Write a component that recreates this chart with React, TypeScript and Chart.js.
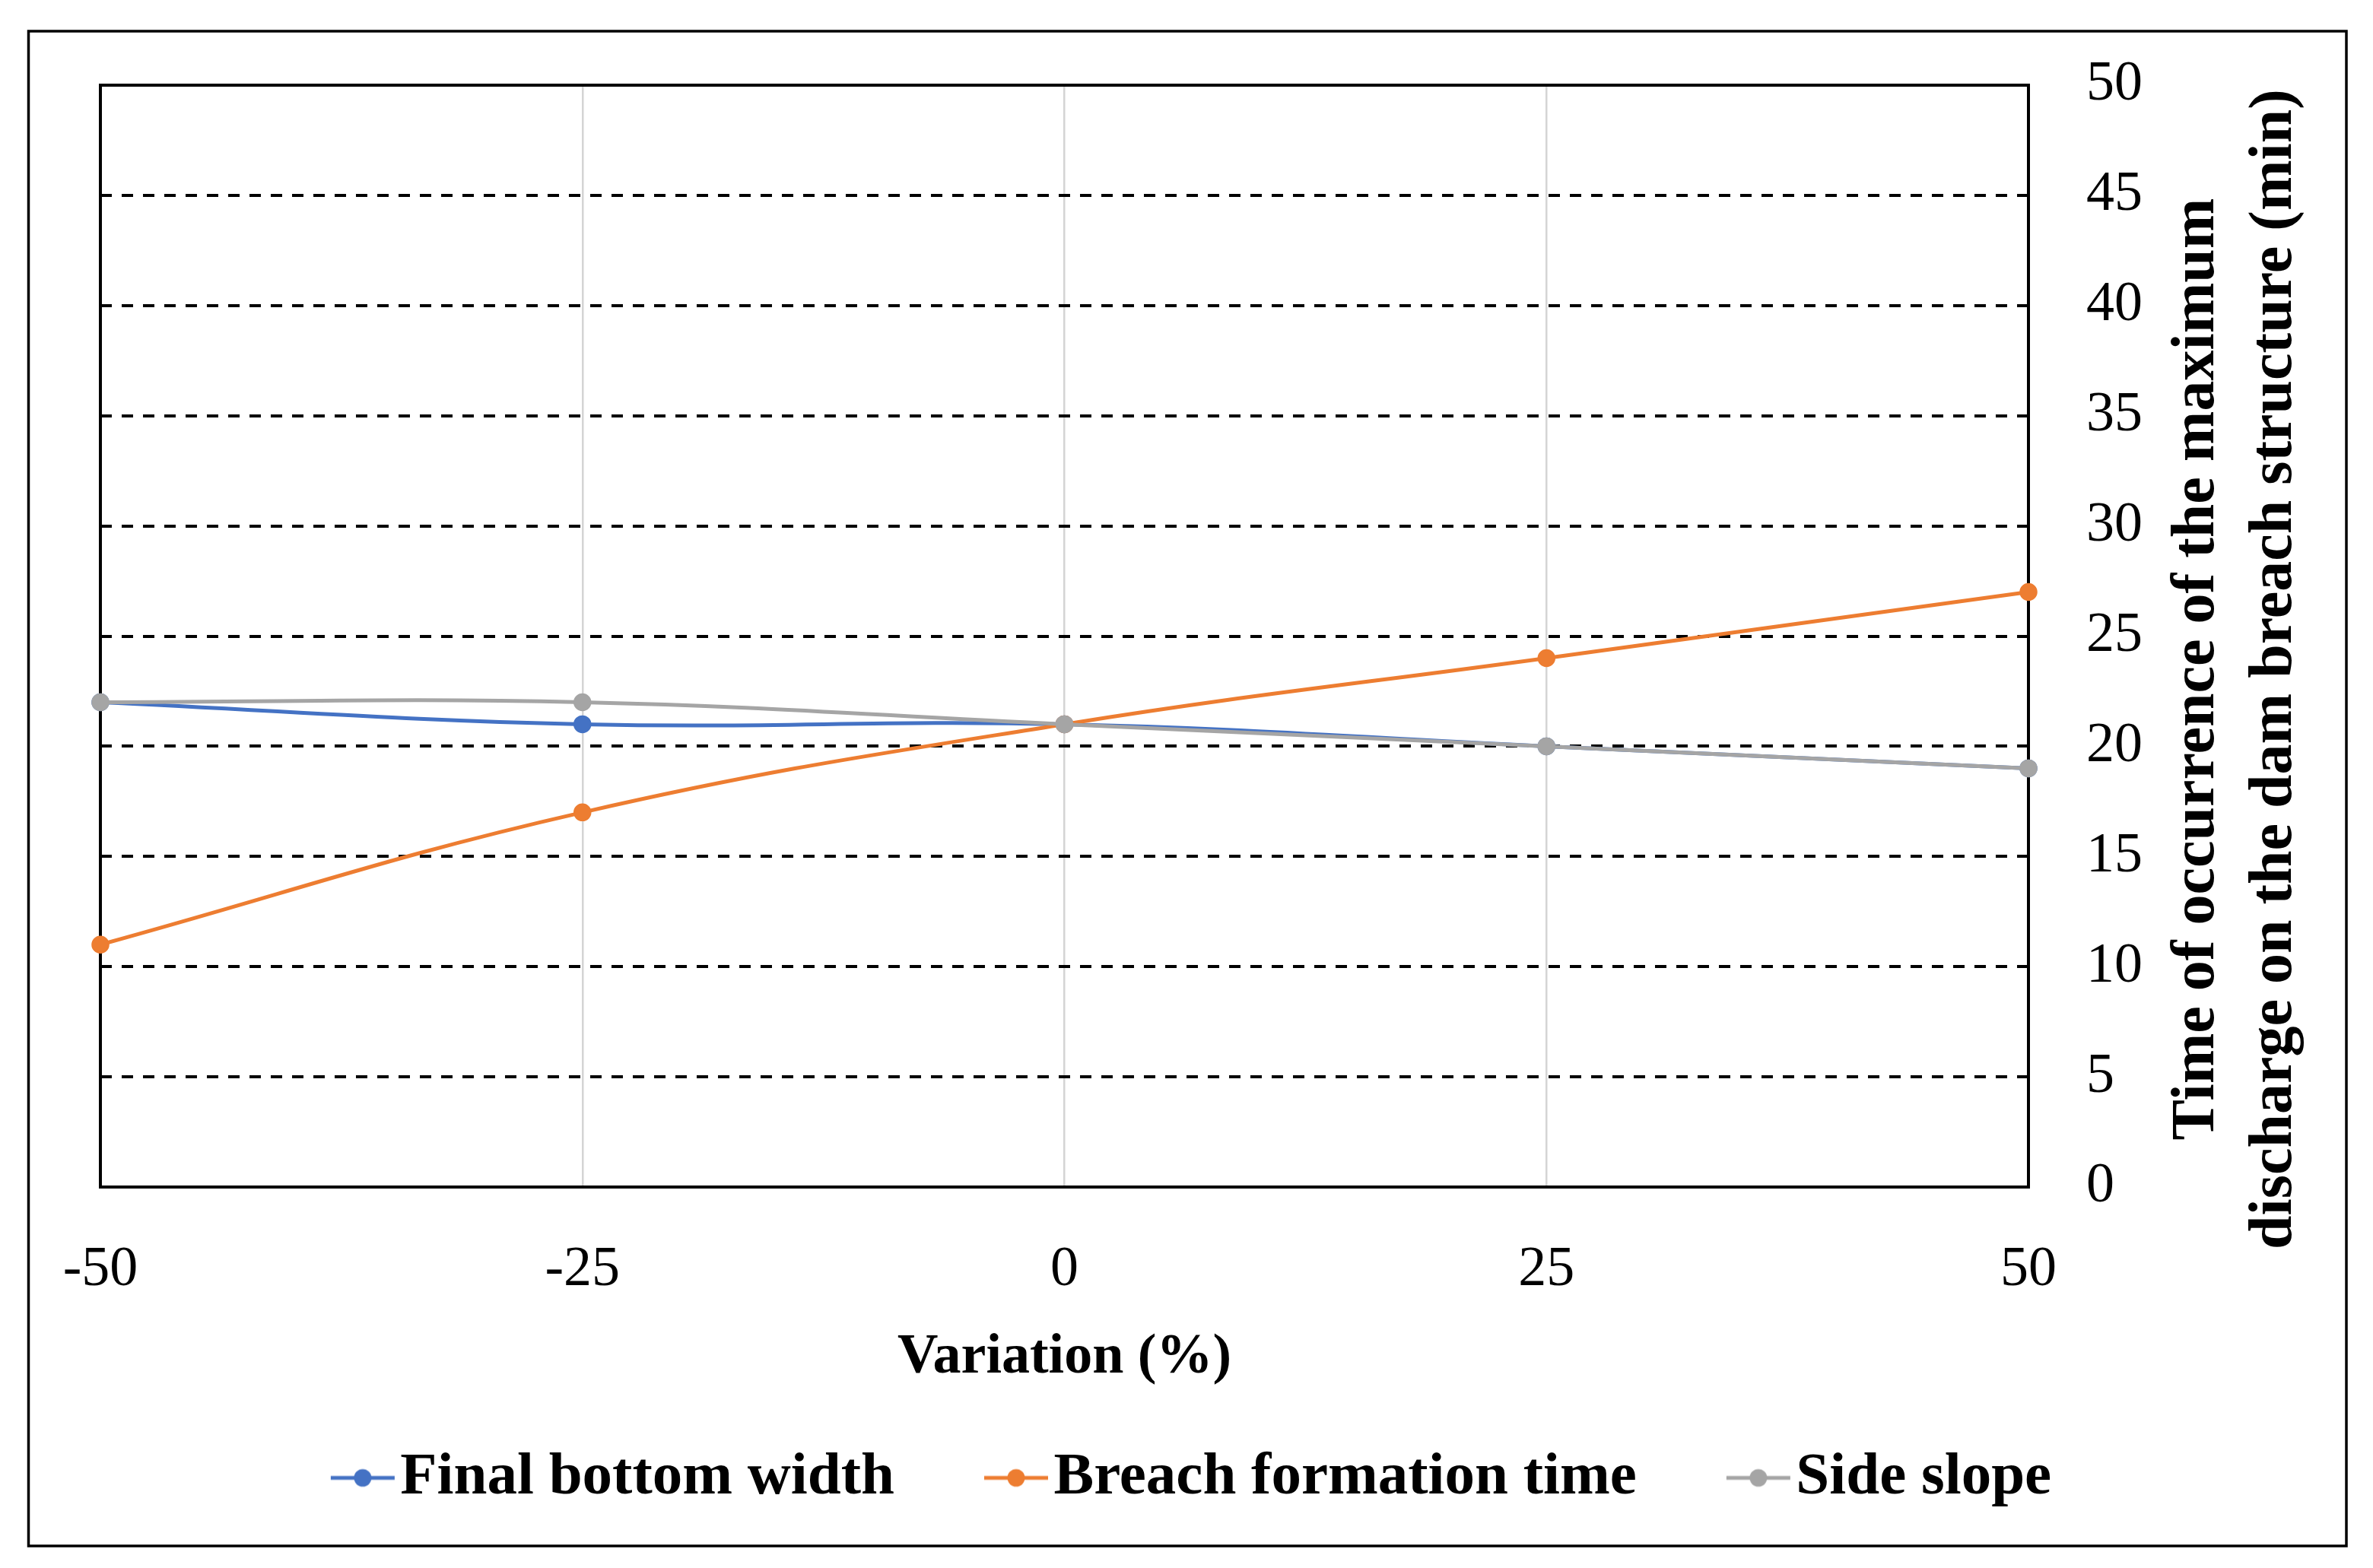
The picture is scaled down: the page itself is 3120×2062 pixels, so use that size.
import { useEffect, useRef } from 'react';
import { Chart, registerables } from 'chart.js';

Chart.register(...registerables);

// ---- data ----
const variation = [-50, -25, 0, 25, 50];
const finalBottomWidth = [22, 21, 21, 20, 19];
const breachFormationTime = [11, 17, 21, 24, 27];
const sideSlope = [22, 22, 21, 20, 19];
const seriesNames = ['Final bottom width', 'Breach formation time', 'Side slope'];
const seriesColors = ['#4472C4', '#ED7D31', '#A5A5A5'];
const xTitle = 'Variation (%)';
const yTitleLines = ['Time of occurrence of the maximum', 'discharge on the dam breach structure (min)'];

const FONT = "'Liberation Serif', 'Times New Roman', serif";

function makeMarker(color: string): HTMLCanvasElement {
  const c = document.createElement('canvas');
  c.width = 260;
  c.height = 30;
  const g = c.getContext('2d')!;
  g.strokeStyle = color;
  g.lineWidth = 5;
  g.beginPath();
  g.moveTo(153, 15);
  g.lineTo(237, 15);
  g.stroke();
  g.fillStyle = color;
  g.beginPath();
  g.arc(195, 15, 11.5, 0, Math.PI * 2);
  g.fill();
  return c;
}

const framePlugin = {
  id: 'framePlugin',
  beforeDatasetsDraw(chart: any) {
    const { ctx, chartArea: a } = chart;
    ctx.save();
    ctx.strokeStyle = '#000';
    ctx.lineWidth = 4;
    ctx.strokeRect(a.left, a.top, a.right - a.left, a.bottom - a.top);
    ctx.restore();
  },
  afterDraw(chart: any) {
    const { ctx, chartArea: a } = chart;
    ctx.save();
    ctx.strokeStyle = '#000';
    ctx.lineWidth = 3.5;
    ctx.strokeRect(37.5, 41, 3047.5, 1992);
    ctx.fillStyle = '#000';
    ctx.font = `bold 80px ${FONT}`;
    ctx.textAlign = 'center';
    ctx.textBaseline = 'alphabetic';
    yTitleLines.forEach((t, i) => {
      ctx.save();
      ctx.translate(a.right + 243 + i * 102, 880);
      ctx.rotate(-Math.PI / 2);
      ctx.fillText(t, 0, 0);
      ctx.restore();
    });
    ctx.restore();
  },
};

export default function App() {
  const ref = useRef<HTMLCanvasElement>(null);

  useEffect(() => {
    document.body.style.margin = '0';
    const canvas = ref.current!;
    const markers = seriesColors.map(makeMarker);
    const seriesValues = [finalBottomWidth, breachFormationTime, sideSlope];
    const orders = [2, 1, 0];
    const chart = new Chart(canvas, {
      type: 'line',
      data: {
        datasets: seriesNames.map((name, i) => ({
          label: name,
          data: variation.map((x, j) => ({ x, y: seriesValues[i][j] })),
          borderColor: seriesColors[i],
          backgroundColor: seriesColors[i],
          pointBackgroundColor: seriesColors[i],
          pointBorderColor: seriesColors[i],
          borderWidth: 5,
          pointRadius: 11,
          pointBorderWidth: 1.5,
          pointHoverRadius: 11,
          tension: 0.4,
          fill: false,
          clip: false as any,
          order: orders[i],
        })),
      },
      options: {
        responsive: false,
        animation: false,
        devicePixelRatio: 1,
        layout: { padding: { left: 132, top: 112, right: 218, bottom: 69 } },
        font: { family: FONT },
        color: '#000',
        scales: {
          x: {
            type: 'linear',
            position: 'bottom',
            min: -50,
            max: 50,
            ticks: {
              stepSize: 25,
              color: '#000',
              font: { family: FONT, size: 74 },
              padding: 65,
              maxRotation: 0,
            },
            grid: { color: '#D4D4D4', lineWidth: 2.5, drawTicks: false },
            border: { display: false },
            title: {
              display: true,
              text: xTitle,
              color: '#000',
              font: { family: FONT, size: 74, weight: 'bold' },
              padding: { top: 0, bottom: 54 },
            },
            afterFit: (s: any) => {
              s.height = 323;
            },
          },
          y: {
            type: 'linear',
            position: 'right',
            min: 0,
            max: 50,
            ticks: {
              stepSize: 5,
              color: '#000',
              font: { family: FONT, size: 74, lineHeight: 0.9 },
              padding: 76,
            },
            grid: { color: '#000', lineWidth: 4, drawTicks: false, borderDash: [15, 13] } as any,
            border: { display: false, dash: [15, 13] },
            afterFit: (s: any) => {
              s.width = 235;
            },
          },
        },
        plugins: {
          tooltip: { enabled: false },
          legend: {
            position: 'bottom',
            align: 'center',
            labels: {
              usePointStyle: true,
              pointStyleWidth: 150,
              padding: 20,
              color: '#000',
              font: { family: FONT, size: 79, weight: 'bold' },
              generateLabels: () =>
                seriesNames.map((name, i) => ({
                  text: name,
                  pointStyle: markers[i] as any,
                  fillStyle: seriesColors[i],
                  strokeStyle: seriesColors[i],
                  lineWidth: 0,
                  hidden: false,
                  datasetIndex: i,
                })),
            },
          },
        },
      } as any,
      plugins: [framePlugin],
    });
    return () => chart.destroy();
  }, []);

  return (
    <div style={{ width: 3120, height: 2062, overflow: 'hidden', background: '#fff' }}>
      <canvas ref={ref} width={3120} height={2062} style={{ width: 3120, height: 2062, display: 'block' }} />
    </div>
  );
}
